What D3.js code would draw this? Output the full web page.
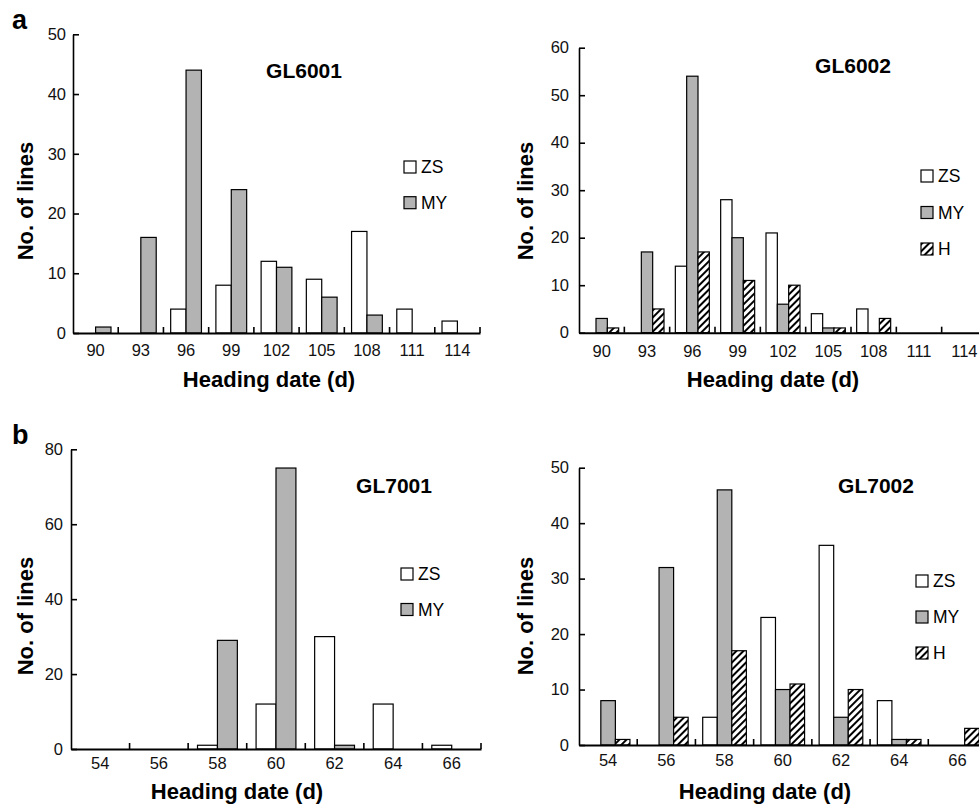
<!DOCTYPE html>
<html>
<head>
<meta charset="utf-8">
<script src="https://cdn.jsdelivr.net/npm/d3@7"></script>
<style>
  body { margin: 0; background: #fff; }
  svg { display: block; font-family: "Liberation Sans", Arial, Helvetica, sans-serif; }
</style>
</head>
<body>
<div id="chart"></div>
<script>
// ---- data ----
var daysA = [90, 93, 96, 99, 102, 105, 108, 111, 114];
var gl6001ZS = [0, 0, 4, 8, 12, 9, 17, 4, 2];
var gl6001MY = [1, 16, 44, 24, 11, 6, 3, 0, 0];

var gl6002ZS = [0, 0, 14, 28, 21, 4, 5, 0, 0];
var gl6002MY = [3, 17, 54, 20, 6, 1, 0, 0, 0];
var gl6002H  = [1, 5, 17, 11, 10, 1, 3, 0, 0];

var daysB = [54, 56, 58, 60, 62, 64, 66];
var gl7001ZS = [0, 0, 1, 12, 30, 12, 1];
var gl7001MY = [0, 0, 29, 75, 1, 0, 0];

var gl7002ZS = [0, 0, 5, 23, 36, 8, 0];
var gl7002MY = [8, 32, 46, 10, 5, 1, 0];
var gl7002H  = [1, 5, 17, 11, 10, 1, 3];

var ticks6001 = [0, 10, 20, 30, 40, 50];
var ticks6002 = [0, 10, 20, 30, 40, 50, 60];
var ticks7001 = [0, 20, 40, 60, 80];
var ticks7002 = [0, 10, 20, 30, 40, 50];

var fills = { ZS: "#ffffff", MY: "#b3b3b3", H: "url(#hatch)" };

// ---- layout of the four panels ----
var panels = [
    { title: "GL6001", cats: daysA, series: [["ZS", gl6001ZS], ["MY", gl6001MY]], yTicks: ticks6001,
      left: 73, right: 480, top: 34.3, bottom: 333, gap: 0.47,
      titleX: 304, titleY: 78, legX: 404, legY: 161, legStep: 35.7,
      yTitleX: 33, yTitleY: 201, xTitleX: 269, xTitleY: 387, xLabelY: 356, yPad: 7 },
    { title: "GL6002", cats: daysA, series: [["ZS", gl6002ZS], ["MY", gl6002MY], ["H", gl6002H]], yTicks: ticks6002,
      left: 579, right: 987, top: 47.7, bottom: 332.7, gap: 0.5,
      titleX: 853, titleY: 72.7, legX: 921, legY: 170, legStep: 36.5,
      yTitleX: 533, yTitleY: 201, xTitleX: 773, xTitleY: 387, xLabelY: 356.7, yPad: 10 },
    { title: "GL7001", cats: daysB, series: [["ZS", gl7001ZS], ["MY", gl7001MY]], yTicks: ticks7001,
      left: 71, right: 481, top: 449.3, bottom: 749, gap: 0.47,
      titleX: 394, titleY: 493, legX: 401, legY: 568, legStep: 35.5,
      yTitleX: 32.7, yTitleY: 616, xTitleX: 237, xTitleY: 799, xLabelY: 769, yPad: 8 },
    { title: "GL7002", cats: daysB, series: [["ZS", gl7002ZS], ["MY", gl7002MY], ["H", gl7002H]], yTicks: ticks7002,
      left: 579, right: 986.5, top: 467.7, bottom: 745, gap: 0.5,
      titleX: 876, titleY: 493, legX: 916, legY: 575, legStep: 36,
      yTitleX: 532.7, yTitleY: 616, xTitleX: 765, xTitleY: 799, xLabelY: 766, yPad: 10 }
];

var svg = d3.select("#chart").append("svg")
    .attr("width", 979)
    .attr("height", 804);

// diagonal hatch for H
var pat = svg.append("defs").append("pattern")
    .attr("id", "hatch")
    .attr("patternUnits", "userSpaceOnUse")
    .attr("width", 5)
    .attr("height", 5)
    .attr("patternTransform", "rotate(45)");
pat.append("rect").attr("width", 5).attr("height", 5).attr("fill", "#fff");
pat.append("line").attr("x1", 1).attr("y1", 0).attr("x2", 1).attr("y2", 5)
    .attr("stroke", "#000").attr("stroke-width", 2);

// panel letters
svg.append("text").attr("x", 12).attr("y", 29).text("a")
    .attr("font-size", "27px").attr("font-weight", "bold");
svg.append("text").attr("x", 12).attr("y", 444).text("b")
    .attr("font-size", "27px").attr("font-weight", "bold");

panels.forEach(function (p) {
    var g = svg.append("g");
    var names = p.series.map(function (s) { return s[0]; });

    var x = d3.scaleBand().domain(p.cats).range([p.left, p.right]).padding(0);
    var x1 = d3.scaleBand().domain(names).range([0, x.bandwidth()])
        .paddingInner(0).paddingOuter(p.gap);
    var y = d3.scaleLinear().domain([0, d3.max(p.yTicks)]).range([p.bottom, p.top]);

    // bars
    p.series.forEach(function (s) {
        var rows = p.cats.map(function (c, i) { return { cat: c, v: s[1][i] }; })
            .filter(function (d) { return d.v > 0; });
        g.append("g").selectAll("rect")
            .data(rows)
            .enter()
            .append("rect")
            .attr("x", function (d) { return x(d.cat) + x1(s[0]); })
            .attr("y", function (d) { return y(d.v); })
            .attr("width", x1.bandwidth())
            .attr("height", function (d) { return y(0) - y(d.v); })
            .attr("fill", fills[s[0]])
            .attr("stroke", "#000")
            .attr("stroke-width", 1.2);
    });

    // y axis, ticks pointing inward
    var yAxis = g.append("g")
        .attr("transform", "translate(" + p.left + ",0)")
        .call(d3.axisLeft(y).tickValues(p.yTicks).tickSizeInner(-6).tickSizeOuter(0).tickPadding(p.yPad));
    yAxis.select(".domain").attr("stroke-width", 1.6);
    yAxis.selectAll(".tick line").attr("stroke-width", 1.6);
    yAxis.selectAll("text").attr("font-size", "16.5px").attr("fill", "#111")
        .attr("font-family", "'Liberation Sans', Arial, sans-serif");

    // x axis: labels at category centres, ticks at category boundaries
    var xAxis = g.append("g")
        .attr("transform", "translate(0," + p.bottom + ")")
        .call(d3.axisBottom(x).tickSize(0).tickSizeOuter(0).tickPadding(0));
    xAxis.select(".domain").attr("stroke-width", 2);
    xAxis.selectAll("text")
        .attr("dy", null)
        .attr("y", p.xLabelY - p.bottom)
        .attr("font-size", "16.5px").attr("fill", "#111")
        .attr("font-family", "'Liberation Sans', Arial, sans-serif");
    xAxis.selectAll(".bound")
        .data(p.cats)
        .enter()
        .append("line")
        .attr("class", "bound")
        .attr("x1", function (c) { return x(c) + x.bandwidth(); })
        .attr("x2", function (c) { return x(c) + x.bandwidth(); })
        .attr("y1", 0)
        .attr("y2", -6)
        .attr("stroke", "#000")
        .attr("stroke-width", 1.6);

    // titles
    g.append("text").attr("x", p.titleX).attr("y", p.titleY)
        .attr("text-anchor", "middle").attr("font-size", "21px").attr("font-weight", "bold")
        .text(p.title);
    g.append("text").attr("x", p.xTitleX).attr("y", p.xTitleY)
        .attr("text-anchor", "middle").attr("font-size", "22px").attr("font-weight", "bold")
        .text("Heading date (d)");
    g.append("text")
        .attr("transform", "translate(" + p.yTitleX + "," + p.yTitleY + ") rotate(-90)")
        .attr("text-anchor", "middle").attr("font-size", "22px").attr("font-weight", "bold")
        .text("No. of lines");

    // legend
    var leg = g.append("g").selectAll("g")
        .data(names)
        .enter()
        .append("g")
        .attr("transform", function (d, i) { return "translate(" + p.legX + "," + (p.legY + i * p.legStep) + ")"; });
    leg.append("rect")
        .attr("width", 12).attr("height", 12)
        .attr("fill", function (d) { return fills[d]; })
        .attr("stroke", "#000").attr("stroke-width", 1.2);
    leg.append("text")
        .attr("x", 17).attr("y", 12.3)
        .attr("font-size", "17.5px")
        .text(function (d) { return d; });
});
</script>
</body>
</html>
